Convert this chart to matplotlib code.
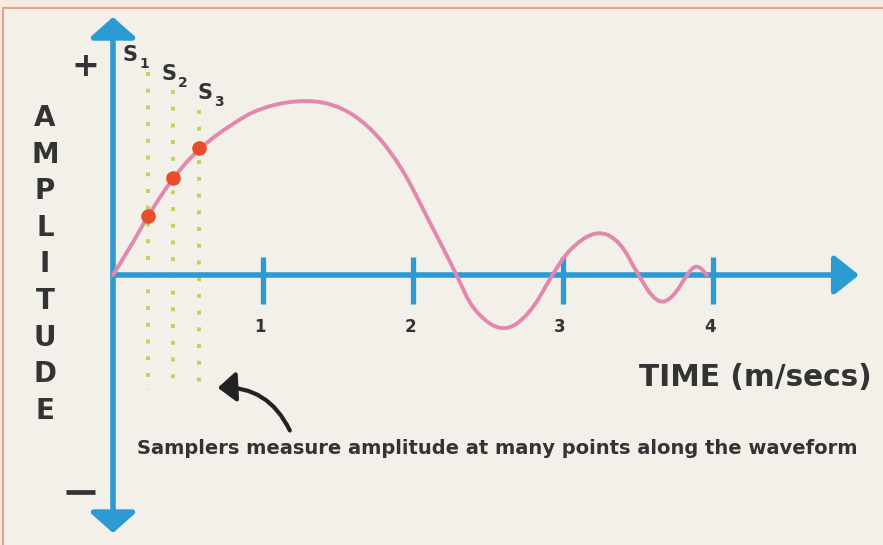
import numpy as np
import matplotlib
matplotlib.use("Agg")
import matplotlib.pyplot as plt
from matplotlib.path import Path
from matplotlib.patches import PathPatch, FancyArrowPatch, Rectangle

# waveform (time in ms, amplitude with peak = 1)
wave_t = [0.0, 0.113, 0.233, 0.40, 0.573, 0.80, 0.98, 1.227, 1.467, 1.693, 1.913,
          2.10, 2.293, 2.40, 2.60, 2.78, 2.927, 3.047, 3.227, 3.38,
          3.50, 3.627, 3.733, 3.827, 3.893, 3.96]
wave_a = [0.0, 0.155, 0.339, 0.557, 0.724, 0.868, 0.954, 1.0, 0.983, 0.868, 0.638,
          0.32, 0.0, -0.207, -0.333, -0.224, 0.0, 0.155, 0.259, 0.195,
          0.0, -0.167, -0.132, 0.006, 0.063, 0.0]

# sample points S1..S3
sample_t = [0.233, 0.40, 0.573]
sample_a = [0.339, 0.557, 0.724]
sample_names = ["1", "2", "3"]

tick_times = [1, 2, 3, 4]
tick_labels = ["1", "2", "3", "4"]

ylabel_letters = list("AMPLITUDE")

BLUE = "#2c9bd4"
PINK = "#e287ad"
RED = "#ea4b2a"
GREEN = "#b8d65c"
DARK = "#333333"
BG = "#f2f0e9"
FONT = "DejaVu Sans"

W, H = 883, 545


# pixel -> data helpers (layout only)
def tx(px):
    return (px - 113) / 150.0


def ay(py):
    return (275 - py) / 175.0


fig = plt.figure(figsize=(W / 100, H / 100), dpi=100)
fig.patch.set_facecolor("#f6e9e0")
ax = fig.add_axes([0, 0, 1, 1])
ax.set_xlim(tx(0), tx(W))
ax.set_ylim(ay(H), ay(0))
ax.axis("off")

# panel with salmon border
ax.add_patch(Rectangle((tx(3), ay(H + 5)), tx(W + 10) - tx(3), ay(8) - ay(H + 5),
                       facecolor=BG, edgecolor="#e7a28c", lw=1.5, zorder=0))

# axes arrows
ax.annotate("", xy=(tx(859), 0), xytext=(0, 0),
            arrowprops=dict(arrowstyle="-|>,head_length=0.75,head_width=0.6", color=BLUE,
                            lw=4, mutation_scale=20, shrinkA=0, shrinkB=0), zorder=2)
for tip in (17, 533):
    ax.annotate("", xy=(0, ay(tip)), xytext=(0, 0),
                arrowprops=dict(arrowstyle="-|>,head_length=0.62,head_width=0.7", color=BLUE,
                                lw=4, mutation_scale=20, shrinkA=0, shrinkB=0), zorder=2)

# ticks and tick labels
for t, lab in zip(tick_times, tick_labels):
    ax.plot([t, t], [ay(257), ay(304)], color=BLUE, lw=3.8, solid_capstyle="butt", zorder=2)
    ax.text(t - 0.02, ay(327), lab, ha="center", va="center", fontsize=12,
            fontweight="bold", color=DARK, family=FONT)

# dotted sample lines
tops = [72, 90, 110]
for t, top in zip(sample_t, tops):
    ax.plot([t, t], [ay(top), ay(390)], color=GREEN, lw=2.8,
            linestyle=(0, (1.0, 3.3)), zorder=1)

# waveform drawn as a smooth path through the read points
pts = list(zip(wave_t, wave_a))
verts = [pts[0]]
codes = [Path.MOVETO]
for i in range(1, len(pts) - 1):
    mid = ((pts[i][0] + pts[i + 1][0]) / 2, (pts[i][1] + pts[i + 1][1]) / 2)
    verts += [pts[i], mid]
    codes += [Path.CURVE3, Path.CURVE3]
verts.append(pts[-1])
codes.append(Path.LINETO)
ax.add_patch(PathPatch(Path(verts, codes), facecolor="none", edgecolor=PINK,
                       lw=2.8, zorder=3, capstyle="round"))

# sample dots
ax.scatter(sample_t, sample_a, s=110, color=RED, zorder=4, linewidths=0)

# S labels
s_pos = [(130, 55), (169, 74), (205, 93)]
for (px, py), n in zip(s_pos, sample_names):
    ax.text(tx(px), ay(py), "S", ha="center", va="center", fontsize=15,
            fontweight="bold", color=DARK, family=FONT)
    ax.text(tx(px + 14), ay(py + 9), n, ha="center", va="center", fontsize=10,
            fontweight="bold", color=DARK, family=FONT)

# + / - signs
ax.text(tx(85), ay(67), "+", ha="center", va="center", fontsize=24,
        fontweight="bold", color=DARK, family=FONT)
ax.plot([tx(66), tx(95)], [ay(492), ay(492)], color=DARK, lw=3.4, solid_capstyle="butt")

# vertical AMPLITUDE
for i, ch in enumerate(ylabel_letters):
    ax.text(tx(45), ay(118 + i * 36.6), ch, ha="center", va="center", fontsize=20,
            fontweight="bold", color=DARK, family=FONT)

ax.text(tx(872), ay(378), "TIME (m/secs)", ha="right", va="center", fontsize=21.3,
        fontweight="bold", color=DARK, family=FONT)

ax.text(tx(137), ay(448), "Samplers measure amplitude at many points along the waveform",
        ha="left", va="center", fontsize=14.0, fontweight="bold", color=DARK,
        family=FONT)

# curved pointer arrow
ax.add_patch(FancyArrowPatch((tx(291), ay(433)), (tx(215), ay(388)),
                             connectionstyle="arc3,rad=0.35",
                             arrowstyle="-|>,head_length=0.55,head_width=0.45",
                             mutation_scale=20, lw=3, color="#222222", zorder=3))

fig.savefig("out.png", dpi=100, facecolor=fig.get_facecolor())
